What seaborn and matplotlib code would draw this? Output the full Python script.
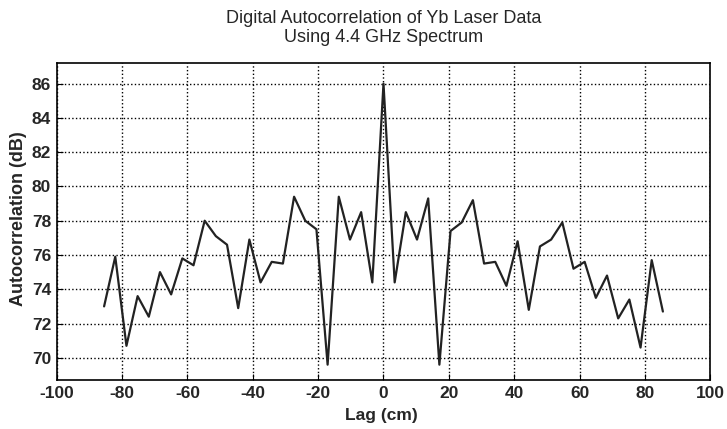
import matplotlib
matplotlib.use('Agg')
import matplotlib.pyplot as plt
import numpy as np
import pandas as pd
import seaborn as sns

# lag index k, lag = k * step (cm)
lag_step = 3.42
lag_index = list(range(-25, 26))
autocorr_db = [
    73.0, 75.9, 70.7, 73.6, 72.4, 75.0, 73.7, 75.8, 75.4, 78.0,
    77.1, 76.6, 72.9, 76.9, 74.4, 75.6, 75.5, 79.4, 78.0, 77.5,
    69.6, 79.4, 76.9, 78.5, 74.4, 86.0, 74.4, 78.5, 76.9, 79.3,
    69.6, 77.4, 77.9, 79.2, 75.5, 75.6, 74.2, 76.8, 72.8, 76.5,
    76.9, 77.9, 75.2, 75.6, 73.5, 74.8, 72.3, 73.4, 70.6, 75.7,
    72.7,
]

df = pd.DataFrame({
    'lag': np.array(lag_index) * lag_step,
    'autocorr': autocorr_db,
})

sns.set_style("ticks")
plt.rcParams['font.family'] = ['Liberation Sans', 'DejaVu Sans']
plt.rcParams['axes.unicode_minus'] = False

fig = plt.figure(figsize=(7.27, 4.29), dpi=100)
ax = fig.add_axes([0.078, 0.114, 0.899, 0.739])

sns.lineplot(data=df, x='lag', y='autocorr', color='#222222', linewidth=1.6, ax=ax)

ax.set_xlim(-100, 100)
ax.set_ylim(68.7, 87.2)
ax.set_xticks(range(-100, 101, 20))
ax.set_yticks(range(70, 87, 2))
ax.grid(True, color='black', linestyle=':', linewidth=1.0)
ax.tick_params(direction='in', labelsize=12.5, length=4, color='black', pad=4)
for lbl in ax.get_xticklabels() + ax.get_yticklabels():
    lbl.set_fontweight('bold')
for s in ax.spines.values():
    s.set_color('black')
    s.set_linewidth(1.2)

ax.set_xlabel('Lag (cm)', fontsize=12.5, fontweight='bold')
ax.set_ylabel('Autocorrelation (dB)', fontsize=13, fontweight='bold')
ax.xaxis.set_label_coords(0.496, -0.088)
ax.yaxis.set_label_coords(-0.045, 0.508)
ax.set_title('Digital Autocorrelation of Yb Laser Data\nUsing 4.4 GHz Spectrum',
             fontsize=13, linespacing=1.15, pad=15)

fig.savefig('out.png', dpi=100)
plt.close(fig)
